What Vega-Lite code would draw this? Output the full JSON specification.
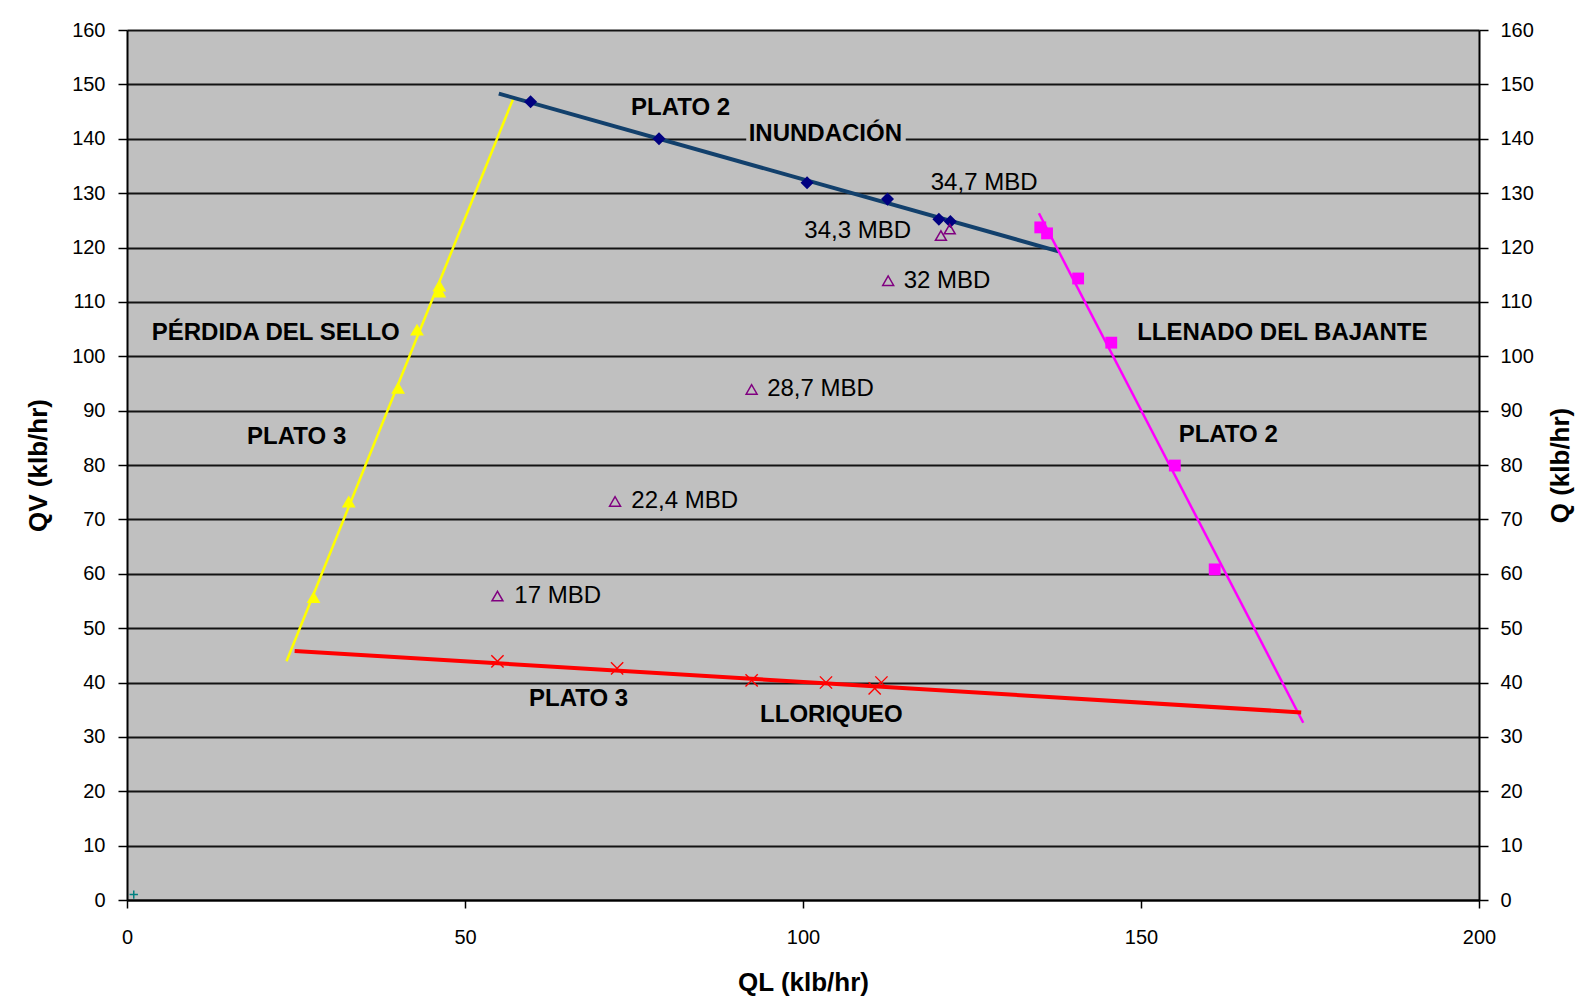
{
  "$schema": "https://vega.github.io/schema/vega-lite/v6.json",
  "width": 1352,
  "height": 870,
  "autosize": {"type": "none"},
  "padding": {"left": 127, "top": 30, "right": 97, "bottom": 100},
  "background": "white",
  "config": {
    "font": "Liberation Sans",
    "view": {"fill": "#C0C0C0", "stroke": null},
    "axis": {
      "domainColor": "#000000",
      "domainWidth": 2,
      "tickColor": "#000000",
      "tickWidth": 1.5,
      "tickSize": 9,
      "labelColor": "#000000",
      "labelFontSize": 20,
      "labelFlush": false,
      "labelOverlap": false,
      "titleColor": "#000000",
      "titleFontSize": 26,
      "titleFontWeight": "bold",
      "gridColor": "#000000",
      "gridWidth": 2,
      "gridOpacity": 0.9
    }
  },
  "datasets": {
    "trend": [
      {"series": "sello", "ql": 23.6, "qv": 43.9},
      {"series": "sello", "ql": 57.2, "qv": 147.6},
      {"series": "inundacion", "ql": 55.0, "qv": 148.3},
      {"series": "inundacion", "ql": 137.8, "qv": 119.3},
      {"series": "bajante", "ql": 134.9, "qv": 126.3},
      {"series": "bajante", "ql": 174.0, "qv": 32.6},
      {"series": "lloriqueo", "ql": 24.8, "qv": 45.8},
      {"series": "lloriqueo", "ql": 173.7, "qv": 34.5}
    ],
    "pts": [
      {"series": "sello", "ql": 27.6, "qv": 55.7},
      {"series": "sello", "ql": 32.8, "qv": 73.3},
      {"series": "sello", "ql": 40.1, "qv": 94.2},
      {"series": "sello", "ql": 42.9, "qv": 104.9},
      {"series": "sello", "ql": 46.2, "qv": 111.9},
      {"series": "sello", "ql": 46.2, "qv": 113.0},
      {"series": "inundacion", "ql": 59.7, "qv": 146.8},
      {"series": "inundacion", "ql": 78.7, "qv": 140.0},
      {"series": "inundacion", "ql": 100.6, "qv": 131.9},
      {"series": "inundacion", "ql": 112.5, "qv": 128.9},
      {"series": "inundacion", "ql": 120.1, "qv": 125.2},
      {"series": "inundacion", "ql": 121.8, "qv": 124.8},
      {"series": "mbd", "ql": 54.8, "qv": 55.9},
      {"series": "mbd", "ql": 72.2, "qv": 73.3},
      {"series": "mbd", "ql": 92.4, "qv": 93.9},
      {"series": "mbd", "ql": 112.6, "qv": 113.9},
      {"series": "mbd", "ql": 120.4, "qv": 122.2},
      {"series": "mbd", "ql": 121.7, "qv": 123.4},
      {"series": "bajante", "ql": 135.1, "qv": 123.7},
      {"series": "bajante", "ql": 136.1, "qv": 122.6},
      {"series": "bajante", "ql": 140.7, "qv": 114.3},
      {"series": "bajante", "ql": 145.6, "qv": 102.5},
      {"series": "bajante", "ql": 155.0, "qv": 79.9},
      {"series": "bajante", "ql": 160.9, "qv": 60.8},
      {"series": "lloriqueo", "ql": 54.8, "qv": 43.9},
      {"series": "lloriqueo", "ql": 72.5, "qv": 42.6},
      {"series": "lloriqueo", "ql": 92.4, "qv": 40.4},
      {"series": "lloriqueo", "ql": 103.4, "qv": 40.0},
      {"series": "lloriqueo", "ql": 111.6, "qv": 40.0},
      {"series": "lloriqueo", "ql": 110.6, "qv": 38.9},
      {"series": "origen", "ql": 1.0, "qv": 1.0}
    ],
    "mbd": [
      {"label": "17 MBD", "ql": 57.3, "qv": 55.9},
      {"label": "22,4 MBD", "ql": 74.6, "qv": 73.3},
      {"label": "28,7 MBD", "ql": 94.7, "qv": 93.9},
      {"label": "32 MBD", "ql": 114.9, "qv": 113.9},
      {"label": "34,3 MBD", "ql": 100.2, "qv": 123.0},
      {"label": "34,7 MBD", "ql": 118.9, "qv": 131.9}
    ],
    "notes": [
      {"label": "PLATO 2", "ql": 81.9, "qv": 145.6},
      {"label": "INUNDACIÓN", "ql": 103.3, "qv": 140.9},
      {"label": "PÉRDIDA DEL SELLO", "ql": 22.0, "qv": 104.3},
      {"label": "PLATO 3", "ql": 25.1, "qv": 85.1},
      {"label": "LLENADO DEL BAJANTE", "ql": 170.9, "qv": 104.3},
      {"label": "PLATO 2", "ql": 162.9, "qv": 85.5},
      {"label": "PLATO 3", "ql": 66.8, "qv": 36.9},
      {"label": "LLORIQUEO", "ql": 104.2, "qv": 34.1}
    ],
    "boxes": [
      {"ql": 91.6, "ql2": 115.2, "qv": 138.4, "qv2": 143.4}
    ]
  },
  "layer": [
    {
      "data": {"name": "boxes"},
      "mark": {"type": "rect", "fill": "#C0C0C0"},
      "encoding": {
        "x": {"field": "ql", "type": "quantitative", "scale": {"domain": [0, 200], "nice": false},
              "axis": {"orient": "bottom", "values": [0, 50, 100, 150, 200], "grid": false, "tickSize": 8, "labelPadding": 19, "title": "QL (klb/hr)", "titlePadding": 22}},
        "x2": {"field": "ql2"},
        "y": {"field": "qv", "type": "quantitative", "scale": {"domain": [0, 160], "nice": false},
              "axis": {"orient": "left", "values": [0, 10, 20, 30, 40, 50, 60, 70, 80, 90, 100, 110, 120, 130, 140, 150, 160], "grid": true, "labelPadding": 13, "title": "QV (klb/hr)", "titlePadding": 20}},
        "y2": {"field": "qv2"}
      }
    },
    {
      "data": {"name": "trend"},
      "transform": [{"filter": "datum.series === 'sello'"}],
      "mark": {"type": "line", "color": "#FFFF00", "strokeWidth": 2.5},
      "encoding": {
        "x": {"field": "ql", "type": "quantitative"},
        "y": {"field": "qv", "type": "quantitative", "axis": null}
      }
    },
    {
      "data": {"name": "trend"},
      "transform": [{"filter": "datum.series === 'inundacion'"}],
      "mark": {"type": "line", "color": "#12406C", "strokeWidth": 4},
      "encoding": {
        "x": {"field": "ql", "type": "quantitative"},
        "y": {"field": "qv", "type": "quantitative", "axis": null}
      }
    },
    {
      "data": {"name": "trend"},
      "transform": [{"filter": "datum.series === 'bajante'"}],
      "mark": {"type": "line", "color": "#FF00FF", "strokeWidth": 2.5},
      "encoding": {
        "x": {"field": "ql", "type": "quantitative"},
        "y": {"field": "qv", "type": "quantitative", "axis": null}
      }
    },
    {
      "data": {"name": "trend"},
      "transform": [{"filter": "datum.series === 'lloriqueo'"}],
      "mark": {"type": "line", "color": "#FF0000", "strokeWidth": 4},
      "encoding": {
        "x": {"field": "ql", "type": "quantitative"},
        "y": {"field": "qv", "type": "quantitative", "axis": null}
      }
    },
    {
      "data": {"name": "pts"},
      "transform": [{"filter": "datum.series === 'sello'"}],
      "mark": {"type": "point", "shape": "triangle-up", "filled": true, "color": "#FFFF00", "size": 190, "opacity": 1},
      "encoding": {
        "x": {"field": "ql", "type": "quantitative"},
        "y": {"field": "qv", "type": "quantitative", "axis": null}
      }
    },
    {
      "data": {"name": "pts"},
      "transform": [{"filter": "datum.series === 'inundacion'"}],
      "mark": {"type": "point", "shape": "diamond", "filled": true, "color": "#000080", "size": 170, "opacity": 1},
      "encoding": {
        "x": {"field": "ql", "type": "quantitative"},
        "y": {"field": "qv", "type": "quantitative", "axis": null}
      }
    },
    {
      "data": {"name": "pts"},
      "transform": [{"filter": "datum.series === 'mbd'"}],
      "mark": {"type": "point", "shape": "triangle-up", "filled": false, "color": "#800080", "size": 120, "strokeWidth": 1.5, "opacity": 1},
      "encoding": {
        "x": {"field": "ql", "type": "quantitative"},
        "y": {"field": "qv", "type": "quantitative", "axis": null}
      }
    },
    {
      "data": {"name": "pts"},
      "transform": [{"filter": "datum.series === 'bajante'"}],
      "mark": {"type": "point", "shape": "square", "filled": true, "color": "#FF00FF", "size": 140, "opacity": 1},
      "encoding": {
        "x": {"field": "ql", "type": "quantitative"},
        "y": {"field": "qv", "type": "quantitative", "axis": null}
      }
    },
    {
      "data": {"name": "pts"},
      "transform": [{"filter": "datum.series === 'lloriqueo'"}],
      "mark": {"type": "point", "shape": "M-1,-1L1,1M-1,1L1,-1", "filled": false, "color": "#FF0000", "size": 150, "strokeWidth": 1.4, "opacity": 1},
      "encoding": {
        "x": {"field": "ql", "type": "quantitative"},
        "y": {"field": "qv", "type": "quantitative", "axis": null}
      }
    },
    {
      "data": {"name": "pts"},
      "transform": [{"filter": "datum.series === 'origen'"}],
      "mark": {"type": "point", "shape": "M-1,0L1,0M0,-1L0,1", "filled": false, "color": "#008080", "size": 70, "strokeWidth": 1.5, "opacity": 1},
      "encoding": {
        "x": {"field": "ql", "type": "quantitative"},
        "y": {"field": "qv", "type": "quantitative",
              "axis": {"orient": "right", "values": [0, 10, 20, 30, 40, 50, 60, 70, 80, 90, 100, 110, 120, 130, 140, 150, 160], "grid": false, "labelPadding": 12, "title": "Q (klb/hr)", "titleAngle": 270, "titlePadding": 40}}
      }
    },
    {
      "data": {"name": "mbd"},
      "mark": {"type": "text", "align": "left", "baseline": "middle", "fontSize": 24, "color": "#000000"},
      "encoding": {
        "x": {"field": "ql", "type": "quantitative"},
        "y": {"field": "qv", "type": "quantitative", "axis": null},
        "text": {"field": "label"}
      }
    },
    {
      "data": {"name": "notes"},
      "mark": {"type": "text", "align": "center", "baseline": "middle", "fontSize": 24, "fontWeight": "bold", "color": "#000000"},
      "encoding": {
        "x": {"field": "ql", "type": "quantitative"},
        "y": {"field": "qv", "type": "quantitative", "axis": null},
        "text": {"field": "label"}
      }
    }
  ],
  "resolve": {"axis": {"y": "independent"}}
}
